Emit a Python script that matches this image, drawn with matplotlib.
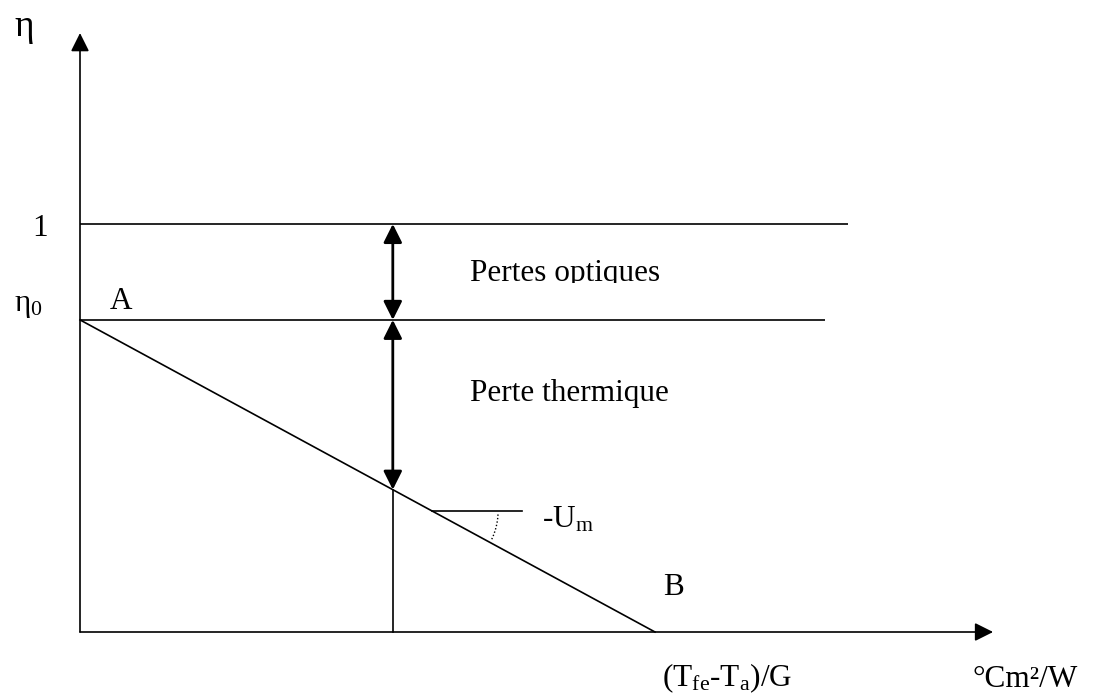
import matplotlib.pyplot as plt
from matplotlib.transforms import Bbox, TransformedBbox
import numpy as np

plt.rcParams['font.family'] = ['Liberation Serif', 'DejaVu Serif']
plt.rcParams['mathtext.fontset'] = 'custom'
plt.rcParams['mathtext.rm'] = 'Liberation Serif'
plt.rcParams['mathtext.it'] = 'Liberation Serif:italic'

# schematic values (x in units of x_B, y in efficiency)
eta_levels = [1.0, 0.765]        # 1 and eta0
level_ends = [1.336, 1.296]      # where the horizontal lines stop
x_B = 1.0                        # zero-efficiency point
x_point = 0.544                  # operating point
x_axis_end = 1.588
y_axis_end = 1.468
eta0 = eta_levels[1]

# pixel scale of the original sketch, used to place labels
sx, sy = 575.0, 408.0
ox, oy = 80.0, 632.0


def px(x, y):
    return (x - ox) / sx, (oy - y) / sy


fig = plt.figure(figsize=(10.95, 6.99), dpi=100)
ax = fig.add_axes([0, 0, 1, 1])
x0, y0 = px(0, 699)
x1, y1 = px(1095, 0)
ax.set_xlim(x0, x1)
ax.set_ylim(y0, y1)
ax.axis('off')

lw = 1.2
# axes with arrow heads
ax.annotate('', xy=(x_axis_end, 0), xytext=(0, 0),
            arrowprops=dict(arrowstyle='-|>', lw=lw, color='black',
                            mutation_scale=28, shrinkA=0, shrinkB=0))
ax.annotate('', xy=(0, y_axis_end), xytext=(0, 0),
            arrowprops=dict(arrowstyle='-|>', lw=lw, color='black',
                            mutation_scale=28, shrinkA=0, shrinkB=0))

# horizontal levels
for lev, end in zip(eta_levels, level_ends):
    ax.plot([0, end], [lev, lev], color='black', lw=lw, solid_capstyle='butt')

# efficiency line A -> B
ax.plot([0, x_B], [eta0, 0], color='black', lw=lw)

# operating point
y_op = eta0 * (1 - x_point / x_B)
ax.plot([x_point, x_point], [0, y_op], color='black', lw=lw)

# double arrows for the losses
for top, bot in [(eta_levels[0], eta0), (eta0, y_op)]:
    ax.annotate('', xy=(x_point, top), xytext=(x_point, bot),
                arrowprops=dict(arrowstyle='<|-|>', lw=2.0, color='black',
                                mutation_scale=28, shrinkA=0, shrinkB=0))

# slope marker
y_s = (oy - 511) / sy
x_s = x_B * (1 - y_s / eta0)
x_e = (522 - ox) / sx
ax.plot([x_s, x_e], [y_s, y_s], color='black', lw=lw)
r = 66.0
ang = np.radians(np.linspace(-3, -27, 20))
ax.plot(x_s + r * np.cos(ang) / sx, y_s + r * np.sin(ang) / sy,
        color='black', lw=1.0, ls=(0, (1, 1.5)))

fs = 22.5
kw = dict(fontsize=fs, ha='left', va='baseline')
ax.text(*px(14, 36), 'η', fontsize=27, ha='left', va='baseline')
ax.text(*px(32, 236), '1', **kw)
ax.text(*px(14, 311), r'η$_\mathrm{0}$', **kw)
ax.text(*px(110, 309), 'A', **kw)
t = ax.text(*px(470, 281), 'Pertes optiques', **kw)
# the label is cut just under its baseline in the original
cx0, cy0 = px(440, 283)
cx1, cy1 = px(740, 240)
t.set_clip_box(TransformedBbox(Bbox([[cx0, cy0], [cx1, cy1]]), ax.transData))
t.set_clip_on(True)
ax.text(*px(470, 401), 'Perte thermique', **kw)
ax.text(*px(542, 528), r'-U$_\mathrm{m}$', **kw)
ax.text(*px(663, 595), 'B', **kw)
ax.text(*px(662, 686), r'(T$_\mathrm{fe}$-T$_\mathrm{a}$)/G', **kw)
ax.text(*px(973, 687), '°Cm²/W', **kw)

plt.savefig('out.png', dpi=100)
